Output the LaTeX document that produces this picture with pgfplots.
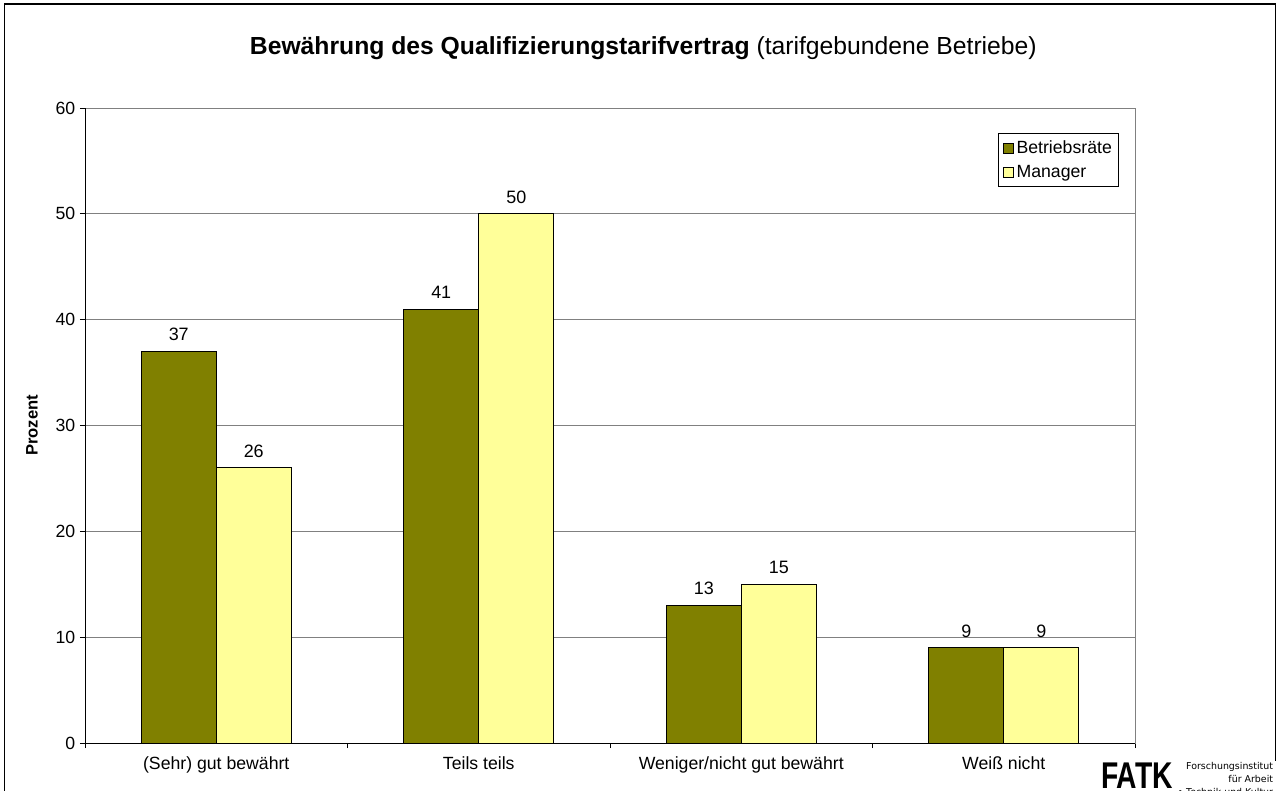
\documentclass[border=0pt]{standalone}
\usepackage{fontspec}
\setmainfont{Liberation Sans}
\newfontfamily\logofont{DejaVu Sans}
\usepackage{pgfplots}
\pgfplotsset{compat=1.18}
\definecolor{olivebar}{HTML}{808000}
\definecolor{yellowbar}{HTML}{FFFF99}
\definecolor{gridgray}{HTML}{808080}

\begin{document}
\begin{tikzpicture}
\useasboundingbox (0,0) rectangle (957.75bp,-593.25bp);
\draw[line width=1.1bp] (3.4bp,-3bp) rectangle (956.6bp,-610bp);
\node[font=\fontsize{18.6}{22}\selectfont] at (482.5bp,-36bp) {\textbf{Bewährung des Qualifizierungstarifvertrag} (tarifgebundene Betriebe)};
\begin{axis}[
  at={(63.75bp,-557.25bp)}, anchor=south west,
  scale only axis, width=787.5bp, height=476.25bp,
  ybar=0pt, bar width=56.25bp,
  xmin=-0.5, xmax=3.5, ymin=0, ymax=60,
  xtick={0,1,2,3},
  xticklabels={(Sehr) gut bewährt, Teils teils, Weniger/nicht gut bewährt, Weiß nicht},
  major x tick style={draw=none},
  minor xtick={-0.5,0.5,1.5,2.5,3.5},
  ytick={0,10,...,60},
  xtick pos=bottom, ytick pos=left,
  tick align=outside,
  tick style={black, line width=0.75bp},
  major tick length=3.75bp, minor tick length=3.75bp,
  ymajorgrids, grid style={gridgray, line width=0.75bp},
  axis line style={gridgray, line width=0.75bp},
  /pgf/number format/assume math mode=true,
  tick label style={font=\fontsize{13.3}{15}\selectfont},
  xticklabel style={yshift=-3bp},
  ylabel={Prozent},
  ylabel style={at={(axis description cs:-0.0505,0.5)}, anchor=center, font=\fontsize{12.5}{14}\selectfont\bfseries},
  nodes near coords,
  every node near coord/.append style={font=\fontsize{13.5}{15}\selectfont, anchor=south, yshift=4bp, black},
  legend style={at={(rel axis cs:1,1)}, anchor=north east, xshift=-12bp, yshift=-18.75bp,
    draw=black, line width=0.75bp, font=\fontsize{13.3}{15}\selectfont, row sep=3bp, inner xsep=3bp, inner ysep=3.5bp},
  legend cell align=left,
  legend image code/.code={\draw[#1, line width=0.75bp] (0bp,-3.75bp) rectangle (7.5bp,3.75bp);},
]
\addplot[fill=olivebar, draw=black, line width=0.75bp] coordinates {(0,37) (1,41) (2,13) (3,9)};
\addplot[fill=yellowbar, draw=black, line width=0.75bp] coordinates {(0,26) (1,50) (2,15) (3,9)};
\legend{Betriebsräte, Manager}
\draw[black, line width=0.75bp] (rel axis cs:0,1) -- (rel axis cs:0,0) -- (rel axis cs:1,0);
\end{axis}
\fill[white] (820bp,-571bp) rectangle (958bp,-594bp);
\node[anchor=north west, inner sep=0, font=\fontsize{28}{28}\selectfont\bfseries, xscale=0.76] at (825.75bp,-572.25bp) {FATK};
\node[anchor=base east, inner sep=0, font=\logofont\fontsize{7.1}{8}\selectfont] at (955bp,-576.75bp) {Forschungsinstitut};
\node[anchor=base east, inner sep=0, font=\logofont\fontsize{7.1}{8}\selectfont] at (955bp,-586.5bp) {für Arbeit};
\node[anchor=base east, inner sep=0, font=\logofont\fontsize{7.1}{8}\selectfont] at (955bp,-596.25bp) {• Technik und Kultur};
\end{tikzpicture}
\end{document}
